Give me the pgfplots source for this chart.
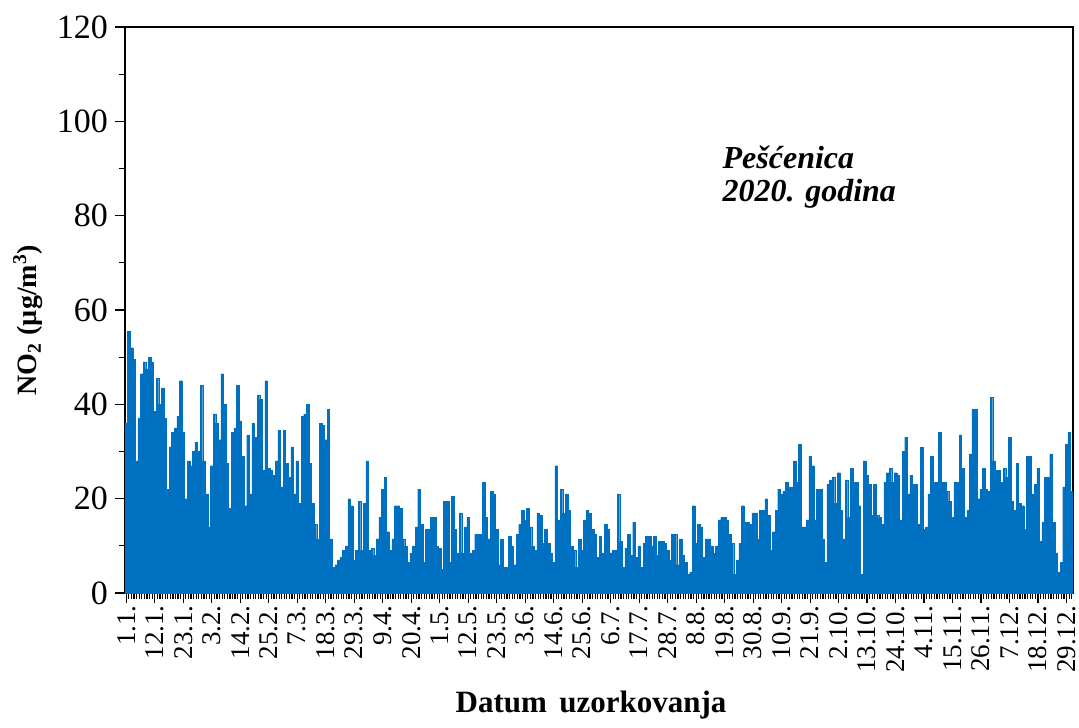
\documentclass[border=0pt]{standalone}
\usepackage{pgfplots}
\pgfplotsset{compat=1.18}
\usepackage{pgfplotstable}
\usepackage{fontspec}
\setmainfont{Liberation Serif}
\definecolor{barblue}{HTML}{0070C0}

% daily NO2, Pescenica 2020 (366 days)
\pgfplotstableread[row sep=\\]{
v\\
36\\ 55.5\\ 52\\ 49.5\\ 28\\ 37\\ 46.5\\ 49\\ 47.5\\ 50\\ 49\\ 38.5\\ 45.5\\ 40\\ 43.5\\ 37\\ 22\\ 31\\ 34\\ 35\\ 37.5\\ 45\\ 34\\ 20\\ 28\\ 27\\ 30\\ 32\\ 30\\
44\\ 28\\ 21\\ 14\\ 27\\ 38\\ 36\\ 32.5\\ 46.5\\ 40\\ 27.5\\ 18\\ 34\\ 35\\ 44\\ 36.5\\ 29\\ 18.5\\ 33.5\\ 21\\ 36\\ 33\\ 42\\ 41\\ 26\\ 45\\ 26.5\\ 26\\ 25\\ 28\\ 34.5\\
22.5\\ 34.5\\ 27.5\\ 24.5\\ 31\\ 21\\ 28\\ 19\\ 37.5\\ 38\\ 40\\ 27.5\\ 19\\ 14.5\\ 11.5\\ 36\\ 35.5\\ 32.5\\ 39\\ 11.5\\ 5.5\\ 6\\ 7\\ 7.5\\ 9\\ 10\\ 20\\ 18.5\\ 7\\ 9\\ 19.5\\
9\\ 19\\ 28\\ 9\\ 9.5\\ 8\\ 11.5\\ 16\\ 22\\ 24.5\\ 13\\ 9\\ 11.5\\ 18.5\\ 18.5\\ 18\\ 11.5\\ 10\\ 6.5\\ 8.5\\ 10\\ 14\\ 22\\ 14.5\\ 6.5\\ 13.5\\ 13.5\\ 16\\ 16\\ 10\\ 9.5\\
5\\ 19.5\\ 19.5\\ 6.5\\ 20.5\\ 13.5\\ 8.5\\ 17\\ 8.5\\ 14\\ 16\\ 8.5\\ 9\\ 12.5\\ 12.5\\ 12.5\\ 23.5\\ 16\\ 11.5\\ 21.5\\ 21\\ 13.5\\ 6\\ 11.5\\ 5.5\\ 5.5\\ 12\\ 10\\ 6\\ 12.5\\ 14.5\\
17.5\\ 15.5\\ 18\\ 14\\ 10\\ 9\\ 17\\ 16.5\\ 10.5\\ 13.5\\ 10.5\\ 8.5\\ 6.5\\ 27\\ 15.5\\ 22\\ 17\\ 21\\ 17.5\\ 10\\ 9\\ 5.5\\ 11.5\\ 9\\ 15.5\\ 17.5\\ 17\\ 13.5\\ 12.5\\ 7.5\\ 12\\
8.5\\ 14.5\\ 13.5\\ 8.5\\ 9\\ 9\\ 21\\ 11\\ 5.5\\ 9.5\\ 12.5\\ 8\\ 15\\ 7.5\\ 10\\ 5.5\\ 10.5\\ 12\\ 12\\ 10\\ 12\\ 8\\ 11\\ 11\\ 10.5\\ 9\\ 7\\ 12.5\\ 12.5\\ 6\\ 11.5\\
8\\ 6.5\\ 4\\ 4.5\\ 18.5\\ 10.5\\ 14.5\\ 14\\ 7.5\\ 11.5\\ 11.5\\ 10\\ 8.5\\ 10\\ 15.5\\ 16\\ 16\\ 15.5\\ 12.5\\ 10.5\\ 4\\ 7\\ 10.5\\ 18.5\\ 15\\ 15\\ 14.5\\ 17\\ 17\\ 11.5\\ 17.5\\
17.5\\ 20\\ 16.5\\ 9\\ 13\\ 17.5\\ 22\\ 21\\ 21.5\\ 23.5\\ 22.5\\ 22.5\\ 28\\ 23.5\\ 31.5\\ 14\\ 14\\ 15.5\\ 29\\ 27\\ 15.5\\ 22\\ 22\\ 11.5\\ 6.5\\ 23\\ 24\\ 24.5\\ 19\\ 25.5\\ 17.5\\
11.5\\ 24\\ 16\\ 26.5\\ 23.5\\ 23.5\\ 18.5\\ 4\\ 28\\ 25\\ 23\\ 16.5\\ 23\\ 16.5\\ 16\\ 14.5\\ 23.5\\ 25.5\\ 26.5\\ 23.5\\ 25.5\\ 25\\ 15.5\\ 30\\ 33\\ 21\\ 25\\ 23\\ 23\\ 14.5\\ 31\\
13.5\\ 14\\ 21\\ 29\\ 23.5\\ 23.5\\ 34\\ 23.5\\ 23.5\\ 21.5\\ 19.5\\ 16\\ 23.5\\ 23.5\\ 33.5\\ 26.5\\ 16\\ 17.5\\ 29.5\\ 39\\ 39\\ 20\\ 22\\ 26.5\\ 22\\ 21.5\\ 41.5\\ 28\\ 26\\ 26\\ 23.5\\
26.5\\ 24.5\\ 33\\ 19.5\\ 17.5\\ 27.5\\ 19\\ 18.5\\ 13.5\\ 29\\ 29\\ 21\\ 23\\ 26.5\\ 11\\ 15\\ 24.5\\ 24.5\\ 29.5\\ 15\\ 8.5\\ 4.5\\ 6.5\\ 22.5\\ 31.5\\ 34\\ 21.5\\
}\nodata

\begin{document}
\begin{tikzpicture}
\path[use as bounding box] (-62.5pt,-67pt) rectangle (477pt,296.5pt);
\begin{axis}[
    width=474pt, height=283pt, scale only axis,
    xmin=0.5, xmax=366.5, ymin=0, ymax=120,
    ytick={0,20,...,120}, minor y tick num=1,
    xtick={1,12,...,364},
    xticklabels={1.1.,12.1.,23.1.,3.2.,14.2.,25.2.,7.3.,18.3.,29.3.,9.4.,20.4.,1.5.,12.5.,23.5.,3.6.,14.6.,25.6.,6.7.,17.7.,28.7.,8.8.,19.8.,30.8.,10.9.,21.9.,2.10.,13.10.,24.10.,4.11.,15.11.,26.11.,7.12.,18.12.,29.12.},
    minor xtick={1,...,366},
    tick align=outside, tick pos=left,
    major tick length=5pt, minor tick length=3pt,
    every tick/.style={black, line width=0.6pt},
    axis line style={line width=1pt},
    /pgf/number format/assume math mode=true,
    yticklabel style={font=\fontsize{17}{20}\selectfont},
    xticklabel style={font=\fontsize{13.5}{16}\selectfont, rotate=90, anchor=east, inner sep=1pt},
    xlabel={\textbf{Datum\hspace{0.4em}uzorkovanja}},
    ylabel={\textbf{NO\textsubscript{2} (µg/m\textsuperscript{3})}},
    xlabel style={font=\fontsize{15.5}{18}\selectfont, at={(axis description cs:0.5,0)}, anchor=center, yshift=-56pt, xshift=-4pt},
    ylabel style={font=\fontsize{14}{17}\selectfont, at={(axis description cs:0,0.5)}, anchor=center, yshift=48.5pt, xshift=-5pt},
]
\addplot[ybar, bar width=1, fill=barblue, draw=barblue, line width=0.15pt]
    table[x expr=\coordindex+1, y=v] {\nodata};
\node[anchor=west, font=\fontsize{16}{19}\selectfont\bfseries\itshape] at (axis cs:228.5,92.4) {Pešćenica};
\node[anchor=west, font=\fontsize{16}{19}\selectfont\bfseries\itshape] at (axis cs:228.5,84.7) {2020. godina};
\end{axis}
\end{tikzpicture}
\end{document}
